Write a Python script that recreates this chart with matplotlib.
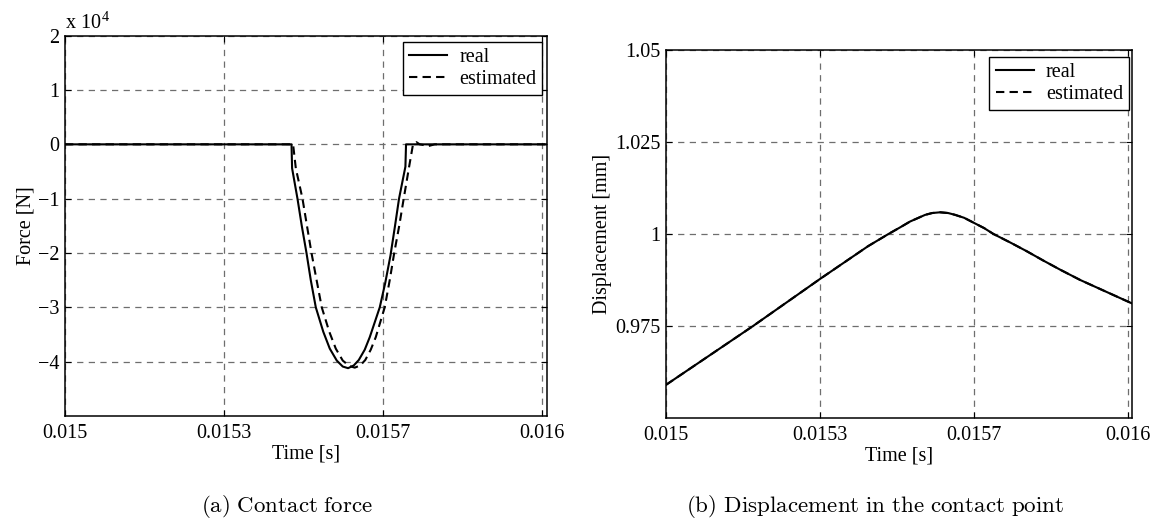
import matplotlib
matplotlib.use("Agg")
import matplotlib.pyplot as plt

# contact force [N]
t_real = [0.015, 0.0154750, 0.0154762, 0.0154875, 0.0154965, 0.0155064, 0.0155154,
          0.0155259, 0.0155416, 0.0155552, 0.0155699, 0.0155824, 0.0155936,
          0.0156055, 0.0156160, 0.0156285, 0.0156390, 0.0156600, 0.0156715,
          0.0156824, 0.0156920, 0.0157004, 0.0157138, 0.0157151, 0.01601]
f_real = [0, 0, -4400, -10000, -15000, -20000, -25000,
          -30000, -34500, -37600, -39800, -40900, -41200,
          -40700, -39700, -37800, -35500, -30000, -25500,
          -20500, -15000, -10000, -4100, 0, 0]

t_est = [0.015, 0.0154783, 0.0154840, 0.0154980, 0.0155074, 0.0155169, 0.0155276,
         0.0155384, 0.0155542, 0.0155678, 0.0155824, 0.0155961, 0.0156076,
         0.0156191, 0.0156296, 0.0156411, 0.0156516, 0.0156704, 0.0156809,
         0.0156903, 0.0157008, 0.0157102, 0.0157218, 0.0157297, 0.0157369,
         0.0157438, 0.0157626, 0.0157752, 0.01601]
f_est = [0, 0, -4400, -10000, -15000, -20000, -25000,
         -30000, -34500, -37600, -39800, -40800, -41100,
         -40700, -39700, -37800, -35500, -30000, -25000,
         -20000, -15000, -10000, -4000, 0, 400,
         0, -300, 0, 0]

# displacement of the contact point [mm]
t_disp = [0.015, 0.0151886, 0.0153338, 0.0154378, 0.0154818, 0.0155071, 0.0155288,
          0.0155613, 0.0155765, 0.0155938, 0.0156112, 0.0156263, 0.0156459,
          0.0156675, 0.0156892, 0.0157094, 0.0157456, 0.0157817, 0.0158171,
          0.0158539, 0.0158973, 0.0159536, 0.01601]
d_real = [0.9590, 0.9750, 0.9878, 0.9967, 1.0000, 1.0018, 1.0034,
          1.0052, 1.0057, 1.0059, 1.0057, 1.0052, 1.0044,
          1.0030, 1.0016, 1.0000, 0.9977, 0.9953, 0.9928,
          0.9903, 0.9875, 0.9843, 0.9811]
d_est = [0.9590, 0.9750, 0.9878, 0.9967, 1.0000, 1.0018, 1.0034,
         1.0052, 1.0057, 1.0059, 1.0057, 1.0052, 1.0044,
         1.0030, 1.0016, 1.0000, 0.9977, 0.9953, 0.9928,
         0.9903, 0.9875, 0.9843, 0.9811]

xticks = [0.015, 0.0153333, 0.0156667, 0.016]
xticklabels = ['0.015', '0.0153', '0.0157', '0.016']
force_ticks = [-4, -3, -2, -1, 0, 1, 2]
disp_ticks = [0.975, 1.0, 1.025, 1.05]
disp_ticklabels = ['0.975', '1', '1.025', '1.05']

plt.rcParams['font.family'] = ['Liberation Serif', 'DejaVu Serif']
plt.rcParams['mathtext.fontset'] = 'cm'
fs = 14.5

fig = plt.figure(figsize=(11.58, 5.31), dpi=100)
ax1 = fig.add_axes([0.0561, 0.2166, 0.4160, 0.7162])
ax2 = fig.add_axes([0.5751, 0.2128, 0.4027, 0.6930])

grid_kw = dict(color='#6e6e6e', linestyle=(0, (5, 4.3)), linewidth=0.9)


def style(ax, anchor):
    ax.set_xlim(0.015, 0.01601)
    ax.set_xticks(xticks)
    ax.set_xticklabels(xticklabels)
    ax.tick_params(direction='in', length=4, width=0.8, top=True, right=True,
                   labelsize=fs, pad=6)
    ax.tick_params(axis='y', pad=4)
    ax.grid(True, **grid_kw)
    for s in ax.spines.values():
        s.set_linewidth(1.1)
    ax.set_xlabel('Time [s]', fontsize=fs, labelpad=1)
    leg = ax.legend(loc='upper right', bbox_to_anchor=anchor,
                    borderaxespad=0, fontsize=fs, fancybox=False,
                    edgecolor='black', framealpha=1, handlelength=1.9,
                    handletextpad=0.6, borderpad=0.3, labelspacing=0.15)
    leg.get_frame().set_linewidth(1.0)


ax1.plot(t_real, [v / 1e4 for v in f_real], color='black', lw=1.5, label='real')
ax1.plot(t_est, [v / 1e4 for v in f_est], color='black', lw=1.5,
         linestyle=(0, (4, 2.5)), label='estimated')
ax1.set_ylim(-5, 2)
ax1.set_yticks(force_ticks)
ax1.set_ylabel('Force [N]', fontsize=fs, labelpad=2)
style(ax1, (0.991, 0.984))
ax1.text(0.0, 1.004, 'x 10$^{\\mathregular{4}}$', transform=ax1.transAxes,
         fontsize=fs, ha='left', va='bottom')

ax2.plot(t_disp, d_real, color='black', lw=1.5, label='real')
ax2.plot(t_disp, d_est, color='black', lw=1.5,
         linestyle=(0, (4, 2.5)), label='estimated')
ax2.set_ylim(0.95, 1.05)
ax2.set_yticks(disp_ticks)
ax2.set_yticklabels(disp_ticklabels)
ax2.set_ylabel('Displacement [mm]', fontsize=fs, labelpad=2)
style(ax2, (0.993, 0.982))

fig.text(0.248, 0.047, r'$\mathrm{(a)\ Contact\ force}$', fontsize=16.5,
         ha='center', va='center')
fig.text(0.7556, 0.047, r'$\mathrm{(b)\ Displacement\ in\ the\ contact\ point}$',
         fontsize=16.6, ha='center', va='center')

fig.savefig('out.png', dpi=100)
